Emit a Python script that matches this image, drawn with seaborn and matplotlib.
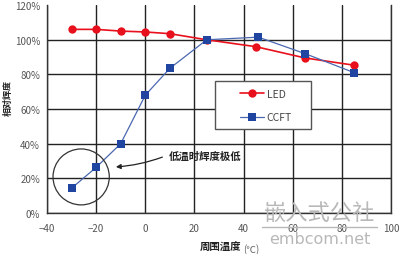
import matplotlib
matplotlib.use("Agg")
import matplotlib.pyplot as plt
import seaborn as sns
import pandas as pd
from matplotlib.patches import Ellipse, Rectangle

led_temp = [-30, -20, -10, 0, 10, 25, 45, 65, 85]
led_val = [106, 106, 105, 104.5, 103.5, 100, 96, 89.5, 85.3]
ccft_temp = [-30, -20, -10, 0, 10, 25, 46, 65, 85]
ccft_val = [14.3, 26.3, 40, 68, 83.5, 100, 101.5, 92, 81]
x_ticks = [-40, -20, 0, 20, 40, 60, 80, 100]
y_ticks = [0, 20, 40, 60, 80, 100, 120]

sns.set_theme(style="white")
plt.rcParams['font.family'] = ['Noto Sans CJK SC', 'DejaVu Sans']

df = pd.concat([
    pd.DataFrame({"t": led_temp, "v": led_val, "s": "LED"}),
    pd.DataFrame({"t": ccft_temp, "v": ccft_val, "s": "CCFT"}),
])

fig = plt.figure(figsize=(4, 2.55), dpi=100)
ax = fig.add_axes([0.1175, 0.161, 0.86, 0.815])

sns.lineplot(data=df[df.s == "LED"], x="t", y="v", ax=ax, color="#e8101c",
             marker="o", markersize=6, markeredgewidth=0, linewidth=1.2, label="LED")
sns.lineplot(data=df[df.s == "CCFT"], x="t", y="v", ax=ax, color="#4a68b0",
             marker="s", markersize=6, markerfacecolor="#1f45a0",
             markeredgewidth=0, linewidth=0.9, label="CCFT")

ax.set_xlim(-40, 100)
ax.set_ylim(0, 120)
ax.set_xticks(x_ticks)
ax.set_yticks(y_ticks)
ax.set_yticklabels([f"{v}%" for v in y_ticks])
ax.grid(True, color="#222222", linewidth=1.0)
ax.set_axisbelow(True)
ax.yaxis.get_gridlines()[-1].set_visible(False)
for sp in ax.spines.values():
    sp.set_color("#333333")
    sp.set_linewidth(1.0)
ax.spines['top'].set_visible(False)
ax.tick_params(axis="both", labelsize=7, colors="#555555", length=0)
ax.tick_params(axis="x", pad=7)
ax.tick_params(axis="y", pad=5)
ax.set_xlabel("")
ax.set_ylabel("相对辉度", fontsize=6.5, color="#222222", fontweight="bold")
ax.yaxis.set_label_coords(-0.1, 0.56)

# legend box
ax.add_patch(Rectangle((0.488, 0.404), 0.279, 0.231, transform=ax.transAxes,
                       facecolor="white", edgecolor="#555555", linewidth=1.0, zorder=4))
leg = ax.legend(loc="center", bbox_to_anchor=(0.637, 0.517), frameon=False,
                fontsize=7.5, labelspacing=1.3, handlelength=2.3, handletextpad=0.25,
                borderaxespad=0)
leg.set_zorder(6)
for t in leg.get_texts():
    t.set_color("#444444")

circ = Ellipse((-26.1, 20.8), 22.9, 32.3, fill=False, edgecolor="#333333", linewidth=0.9, zorder=5)
ax.add_patch(circ)
ax.annotate("", xy=(-13.1, 26.5), xytext=(8.0, 32.8),
            arrowprops=dict(arrowstyle="-|>", color="#222222", lw=0.9,
                            mutation_scale=7, connectionstyle="arc3,rad=-0.08"))
ax.text(9.5, 32.8, "低温时辉度极低", fontsize=7.5, fontweight="bold", color="#222222",
        va="center", ha="left")

fig.text(0.5, 0.027, "周围温度", fontsize=7.5, fontweight="bold", color="#222222", ha="left", va="center")
fig.text(0.607, 0.022, "(℃)", fontsize=7, color="#666666", ha="left", va="center")

fig.text(0.797, 0.163, "嵌入式公社", fontsize=16, color="#b8b8b8", ha="center", va="center")
fig.add_artist(plt.Line2D([0.655, 0.943], [0.106, 0.106], color="#b8b8b8", lw=1.0))
fig.text(0.8, 0.062, "embcom.net", fontsize=11.5, color="#b8b8b8", ha="center", va="center",
         family="DejaVu Sans")

fig.savefig("out.png", dpi=100)
